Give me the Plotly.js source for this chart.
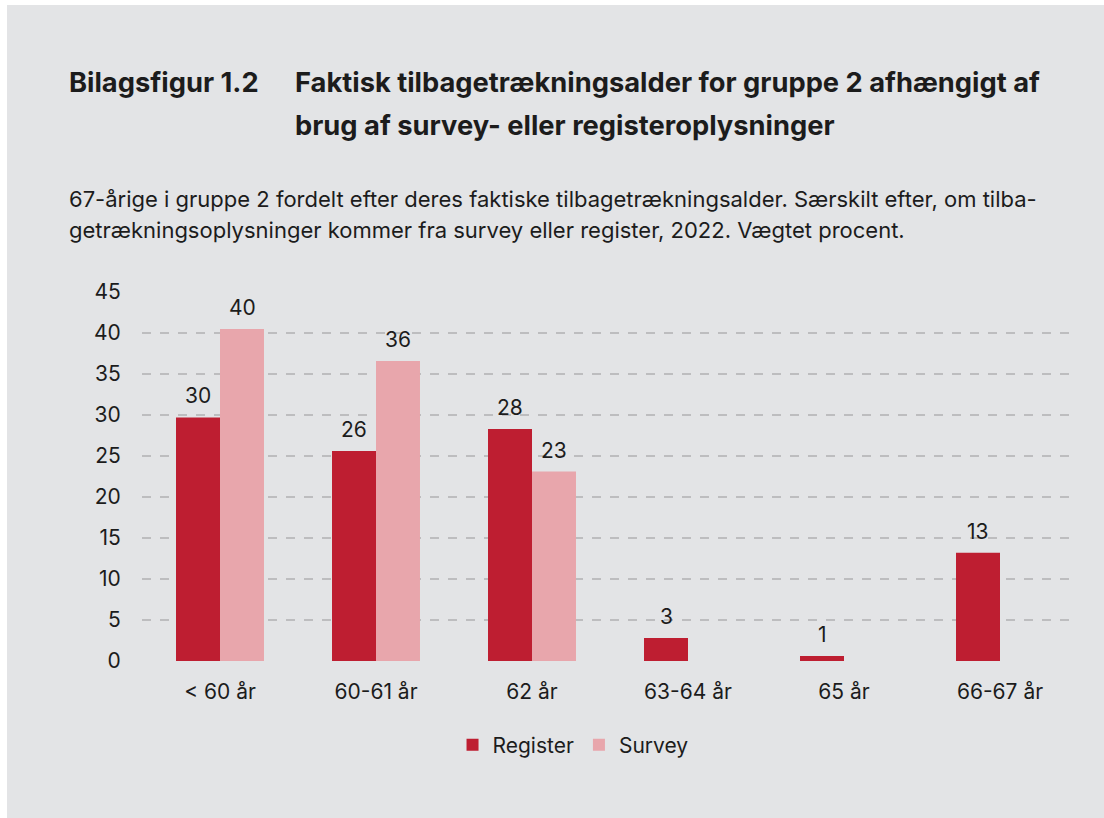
<!DOCTYPE html>
<html>
<head>
<meta charset="utf-8">
<script src="https://cdn.plot.ly/plotly-3.0.1.min.js"></script>
<style>
html,body{margin:0;padding:0;background:#ffffff;}
#chart{width:1104px;height:818px;}
</style>
</head>
<body>
<div id="chart"></div>
<script>
const categories = ["< 60 år", "60-61 år", "62 år", "63-64 år", "65 år", "66-67 år"];
const registerValues = [29.7, 25.6, 28.3, 2.8, 0.6, 13.2];
const surveyValues = [40.5, 36.6, 23.1, null, null, null];
const registerLabels = ["30", "26", "28", "3", "1", "13"];
const surveyLabels = ["40", "36", "23", "", "", ""];
const yTicks = [0, 5, 10, 15, 20, 25, 30, 35, 40, 45];

const FONT = "Inter, 'Noto Sans', sans-serif";
const TXT = "#1c1c1c";
const RED = "#be1e31";
const PINK = "#e8a6ac";
const BG = "#e3e4e6";
const FS = 21;

const traces = [
  {type: "bar", name: "Register", x: categories, y: registerValues, marker: {color: RED}, hoverinfo: "none"},
  {type: "bar", name: "Survey", x: categories, y: surveyValues, marker: {color: PINK}, hoverinfo: "none"}
];

const L = 142, R = 26, T = 292, B = 157, W = 1104, H = 818;
const pw = W - L - R, ph = H - T - B;
function px(xp){ return (xp - L) / pw; }
function py(yp){ return (H - B - yp) / ph; }

const annotations = [];
categories.forEach((c, i) => {
  if (registerLabels[i]) annotations.push({x: c, y: registerValues[i], xref: "x", yref: "y", text: registerLabels[i], showarrow: false, xshift: -22, yanchor: "bottom", yshift: 7, font: {size: FS, color: TXT, family: FONT}});
  if (surveyLabels[i]) annotations.push({x: c, y: surveyValues[i], xref: "x", yref: "y", text: surveyLabels[i], showarrow: false, xshift: 22, yanchor: "bottom", yshift: 7, font: {size: FS, color: TXT, family: FONT}});
});
const titleFont = {size: 27.3, color: TXT, family: FONT};
const subFont = {size: 22, color: TXT, family: FONT};
const header = [
  ["<b>Bilagsfigur 1.2</b>", 67, 83, titleFont],
  ["<b>Faktisk tilbagetrækningsalder for gruppe 2 afhængigt af</b>", 293, 83, titleFont],
  ["<b>brug af survey- eller registeroplysninger</b>", 293, 125, titleFont],
  ["67-årige i gruppe 2 fordelt efter deres faktiske tilbagetrækningsalder. Særskilt efter, om tilba-", 67, 199, subFont],
  ["getrækningsoplysninger kommer fra survey eller register, 2022. Vægtet procent.", 67, 230, subFont]
];
header.forEach(h => annotations.push({xref: "paper", yref: "paper", x: px(h[1]), y: py(h[2]), text: h[0], showarrow: false, xanchor: "left", yanchor: "middle", font: h[3]}));

const layout = {
  width: W, height: H,
  margin: {l: L, r: R, t: T, b: B},
  paper_bgcolor: "#ffffff",
  plot_bgcolor: "rgba(0,0,0,0)",
  font: {family: FONT, color: TXT, size: FS},
  barmode: "group",
  bargap: 0.436,
  bargroupgap: 0,
  showlegend: true,
  legend: {orientation: "h", x: 0.4605, xanchor: "center", y: py(745), yanchor: "middle", font: {size: FS, color: TXT, family: FONT}, itemwidth: 30, traceorder: "normal", bgcolor: "rgba(0,0,0,0)"},
  xaxis: {type: "category", tickfont: {size: FS, color: TXT, family: FONT}, showgrid: false, showline: false, zeroline: false, ticks: "outside", ticklen: 12, tickcolor: "rgba(0,0,0,0)", fixedrange: true},
  yaxis: {range: [0, 45], tickvals: yTicks, tickfont: {size: FS, color: TXT, family: FONT}, showgrid: true, gridcolor: "#bdbdbf", griddash: "dash", gridwidth: 1.5, zeroline: false, showline: false, ticks: "outside", ticklen: 16, tickcolor: "rgba(0,0,0,0)", fixedrange: true},
  shapes: [{type: "rect", xref: "paper", yref: "paper", x0: px(7), x1: px(W), y0: py(5), y1: py(H), fillcolor: BG, line: {width: 0}, layer: "below"}],
  annotations: annotations
};

Plotly.newPlot("chart", traces, layout, {displayModeBar: false, staticPlot: true});
</script>
</body>
</html>
